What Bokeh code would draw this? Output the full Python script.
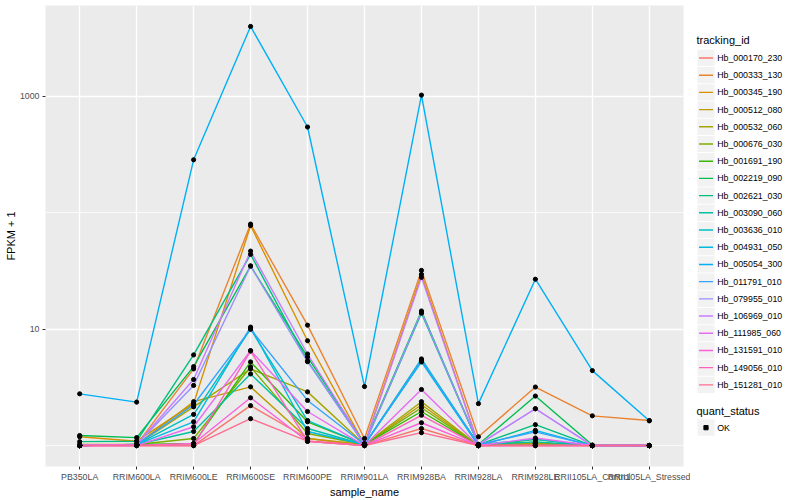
from bokeh.plotting import figure
from bokeh.models import FactorRange, Range1d, FixedTicker, NumeralTickFormatter
from bokeh.layouts import row
from bokeh.embed import file_html
from bokeh.resources import INLINE
from bokeh.core.properties import value

FONT = "Liberation Sans"

samples = ["PB350LA", "RRIM600LA", "RRIM600LE", "RRIM600SE", "RRIM600PE", "RRIM901LA",
           "RRIM928BA", "RRIM928LA", "RRIM928LE", "RRII105LA_Control", "RRII105LA_Stressed"]

tracking_ids = ["Hb_000170_230", "Hb_000333_130", "Hb_000345_190", "Hb_000512_080",
                "Hb_000532_060", "Hb_000676_030", "Hb_001691_190", "Hb_002219_090",
                "Hb_002621_030", "Hb_003090_060", "Hb_003636_010", "Hb_004931_050",
                "Hb_005054_300", "Hb_011791_010", "Hb_079955_010", "Hb_106969_010",
                "Hb_111985_060", "Hb_131591_010", "Hb_149056_010", "Hb_151281_010"]

colors = ["#F8766D", "#EA8331", "#D89000", "#C09B00", "#A3A500", "#7CAE00", "#39B600",
          "#00BB4E", "#00BF7D", "#00C1A3", "#00BFC4", "#00BAE0", "#00B0F6", "#35A2FF",
          "#9590FF", "#C77CFF", "#E76BF3", "#FA62DB", "#FF62BC", "#FF6C91"]

# FPKM + 1 for each tracking_id, in the order of samples
hb_000170_230 = [1.00, 1.00, 1.00, 2.20, 1.15, 1.00, 1.40, 1.00, 1.00, 1.00, 1.00]
hb_000333_130 = [1.02, 1.02, 4.55, 79.7, 10.8, 1.15, 31.9, 1.19, 3.18, 1.80, 1.64]
hb_000345_190 = [1.19, 1.09, 2.29, 77.4, 7.94, 1.02, 29.5, 1.02, 1.06, 1.00, 1.00]
hb_000512_080 = [1.00, 1.02, 2.38, 3.19, 1.15, 1.02, 2.24, 1.00, 1.04, 1.00, 1.00]
hb_000532_060 = [1.00, 1.02, 2.15, 4.55, 2.89, 1.02, 2.38, 1.00, 1.04, 1.00, 1.00]
hb_000676_030 = [1.00, 1.02, 1.15, 4.73, 1.27, 1.02, 2.11, 1.00, 1.02, 1.00, 1.00]
hb_001691_190 = [1.00, 1.02, 1.04, 5.22, 1.60, 1.02, 1.96, 1.00, 1.13, 1.00, 1.00]
hb_002219_090 = [1.22, 1.17, 4.76, 34.8, 5.76, 1.04, 14.3, 1.02, 2.66, 1.01, 1.00]
hb_002621_030 = [1.08, 1.09, 6.00, 43.8, 5.33, 1.02, 13.7, 1.02, 1.51, 1.00, 1.00]
hb_003090_060 = [1.00, 1.02, 1.32, 4.12, 1.40, 1.02, 5.33, 1.02, 1.075, 1.00, 1.00]
hb_003636_010 = [1.00, 1.02, 1.85, 10.0, 1.64, 1.02, 5.54, 1.02, 1.13, 1.00, 1.00]
hb_004931_050 = [1.00, 1.02, 1.60, 10.4, 1.32, 1.02, 5.22, 1.00, 1.35, 1.00, 1.00]
hb_005054_300 = [2.78, 2.36, 284.0, 3963.0, 543.0, 3.21, 1020.0, 2.29, 26.8, 4.40, 1.63]
hb_011791_010 = [1.00, 1.02, 2.24, 10.0, 2.44, 1.02, 5.40, 1.02, 1.31, 1.00, 1.00]
hb_079955_010 = [1.00, 1.02, 3.28, 34.8, 5.25, 1.02, 14.0, 1.02, 2.07, 1.00, 1.00]
hb_106969_010 = [1.00, 1.02, 3.69, 46.7, 6.11, 1.02, 27.8, 1.02, 2.07, 1.00, 1.00]
hb_111985_060 = [1.00, 1.00, 1.45, 6.53, 1.96, 1.00, 3.03, 1.00, 1.16, 1.00, 1.00]
hb_131591_010 = [1.00, 1.00, 1.04, 2.57, 1.09, 1.00, 1.57, 1.00, 1.00, 1.00, 1.00]
hb_149056_010 = [1.00, 1.00, 1.00, 6.48, 1.09, 1.00, 1.82, 1.00, 1.00, 1.00, 1.00]
hb_151281_010 = [1.00, 1.00, 1.00, 1.70, 1.09, 1.00, 1.29, 1.00, 1.00, 1.00, 1.00]

series_values = [hb_000170_230, hb_000333_130, hb_000345_190, hb_000512_080, hb_000532_060,
                 hb_000676_030, hb_001691_190, hb_002219_090, hb_002621_030, hb_003090_060,
                 hb_003636_010, hb_004931_050, hb_005054_300, hb_011791_010, hb_079955_010,
                 hb_106969_010, hb_111985_060, hb_131591_010, hb_149056_010, hb_151281_010]

quant_status = ["OK"]

y_ticks = [10, 1000]
y_minor = [1, 100, 10000]

TOP, BOTTOM_BORDER, HEIGHT = 5, 32, 500
MAIN_W, LEG_W = 690, 110

# ---------------- main panel ----------------
p = figure(width=MAIN_W, height=HEIGHT,
           x_range=FactorRange(factors=samples, range_padding=0.1, range_padding_units="absolute"),
           y_range=Range1d(0.661, 5998), y_axis_type="log",
           output_backend="svg", toolbar_location=None,
           min_border_left=45, min_border_right=7, min_border_top=TOP,
           min_border_bottom=BOTTOM_BORDER)
p.background_fill_color = "#EBEBEB"
p.border_fill_color = "white"
p.outline_line_color = None

for vals, col in zip(series_values, colors):
    p.line(x=samples, y=vals, line_color=col, line_width=1.4)

all_x = [s for vals in series_values for s in samples]
all_y = [v for vals in series_values for v in vals]
p.scatter(x=all_x, y=all_y, size=4.2, marker="circle", fill_color="black", line_color="black")

ticker = FixedTicker(ticks=y_ticks, minor_ticks=y_minor)
p.yaxis.ticker = ticker
p.ygrid.ticker = ticker
p.yaxis.formatter = NumeralTickFormatter(format="0")

for ax in (p.xaxis, p.yaxis):
    ax.axis_line_color = None
    ax.major_tick_line_color = "#333333"
    ax.major_tick_in = 0
    ax.major_tick_out = 3
    ax.minor_tick_line_color = None
    ax.major_label_text_font = FONT
    ax.major_label_text_font_size = "8.8px"
    ax.major_label_text_color = "#4D4D4D"
    ax.axis_label_text_font = FONT
    ax.axis_label_text_font_size = "11px"
    ax.axis_label_text_font_style = "normal"
    ax.axis_label_text_color = "black"
    ax.major_label_standoff = 2
    ax.axis_label_standoff = 1

p.xaxis.axis_label = "sample_name"
p.yaxis.axis_label = "FPKM + 1"
p.yaxis.axis_label_standoff = 0

p.xgrid.grid_line_color = "white"
p.xgrid.grid_line_width = 1.4
p.ygrid.grid_line_color = "white"
p.ygrid.grid_line_width = 1.4
p.ygrid.minor_grid_line_color = "white"
p.ygrid.minor_grid_line_width = 0.7

# ---------------- legend panel (coordinates = page pixels) ----------------
frame_bottom = HEIGHT - BOTTOM_BORDER
leg = figure(width=LEG_W, height=HEIGHT, x_range=Range1d(MAIN_W, MAIN_W + LEG_W),
             y_range=Range1d(frame_bottom, TOP),
             output_backend="svg", toolbar_location=None,
             x_axis_location=None, y_axis_location=None,
             min_border_left=0, min_border_right=0,
             min_border_top=TOP, min_border_bottom=BOTTOM_BORDER)
leg.outline_line_color = None
leg.xgrid.visible = False
leg.ygrid.visible = False
leg.background_fill_color = "white"
leg.border_fill_color = "white"

n = len(tracking_ids)
centers = [57.7 + 17.28 * i for i in range(n)]
key_x = 705.5
leg.text(x=[696], y=[40], text=["tracking_id"], text_font=value(FONT),
         text_font_size=value("11px"), text_baseline="middle", text_color="black")
leg.rect(x=[key_x] * n, y=centers, width=17, height=16.3, fill_color="#F2F2F2", line_color=None)
leg.segment(x0=[key_x - 7] * n, x1=[key_x + 7] * n, y0=centers, y1=centers,
            line_color=colors, line_width=1.4)
leg.text(x=[716.7] * n, y=centers, text=tracking_ids, text_font=value(FONT),
         text_font_size=value("8.8px"), text_baseline="middle", text_color="black")

leg.text(x=[696], y=[412.7], text=["quant_status"], text_font=value(FONT),
         text_font_size=value("11px"), text_baseline="middle", text_color="black")
leg.rect(x=[key_x], y=[429], width=17, height=16.3, fill_color="#F2F2F2", line_color=None)
leg.scatter(x=[key_x], y=[429], size=4.2, marker="square", fill_color="black", line_color="black")
leg.text(x=[716.7], y=[429], text=quant_status, text_font=value(FONT),
         text_font_size=value("8.8px"), text_baseline="middle", text_color="black")

layout = row(p, leg)
open("out.html", "w").write(file_html(layout, INLINE))
